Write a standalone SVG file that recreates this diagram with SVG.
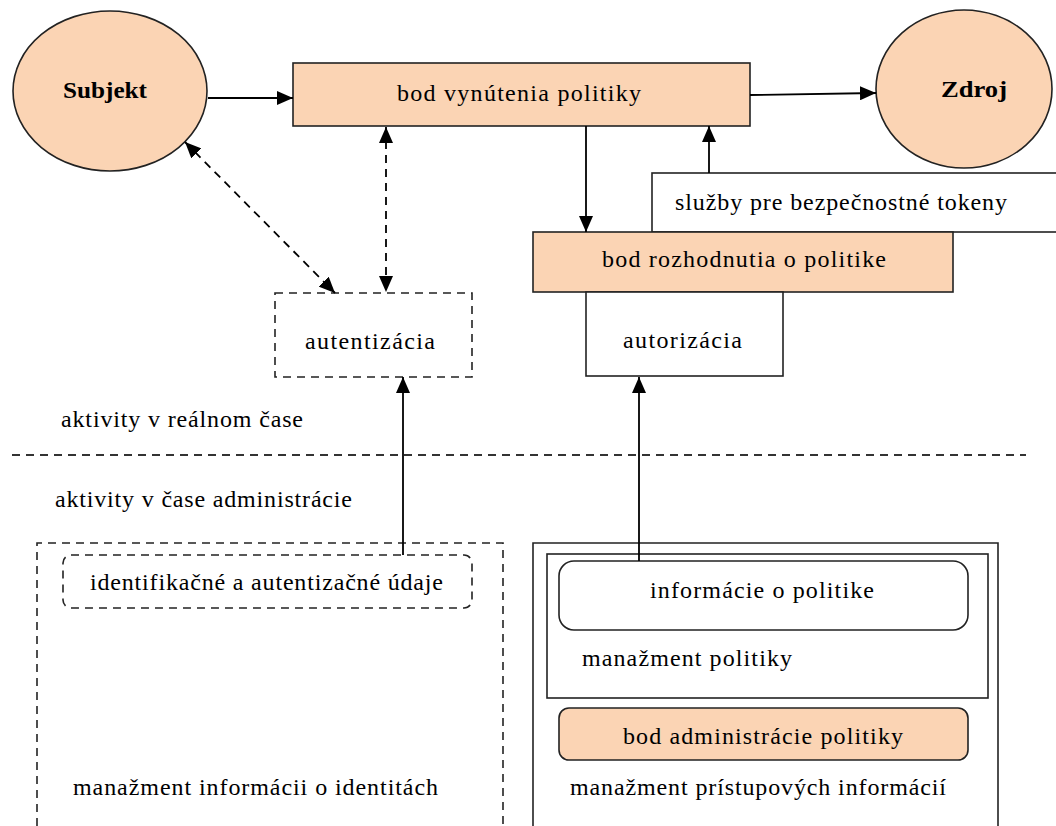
<svg xmlns="http://www.w3.org/2000/svg" width="1056" height="826" viewBox="0 0 1056 826">
<defs>
<marker id="ah" markerUnits="userSpaceOnUse" markerWidth="16" markerHeight="14" refX="16" refY="7" orient="auto-start-reverse">
<path d="M0,0 L16,7 L0,14 z" fill="#000"/>
</marker>
<style>
.t{font-family:"Liberation Serif","Times New Roman",serif;font-size:24px;fill:#000}
.b{font-weight:bold}
.peach{fill:#FBD4B4;stroke:#222;stroke-width:1.6}
.box{fill:#fff;stroke:#222;stroke-width:1.6}
.dbox{fill:none;stroke:#222;stroke-width:1.6;stroke-dasharray:8,6}
.c{fill:none;stroke:#000;stroke-width:1.8}
.cd{fill:none;stroke:#000;stroke-width:1.8;stroke-dasharray:8,6}
</style>
</defs>
<rect width="1056" height="826" fill="#fff"/>

<g id="subjekt">
<ellipse class="peach" cx="110" cy="91" rx="97" ry="80"/>
<text class="t b" x="63" y="98" textLength="84" lengthAdjust="spacingAndGlyphs">Subjekt</text>
</g>
<g id="zdroj">
<ellipse class="peach" cx="964" cy="89" rx="88" ry="79"/>
<text class="t b" x="941" y="97" textLength="66" lengthAdjust="spacingAndGlyphs">Zdroj</text>
</g>
<g id="pep">
<rect class="peach" x="293" y="63" width="457" height="63"/>
<text class="t" x="397" y="101" textLength="244" lengthAdjust="spacing">bod vynútenia politiky</text>
</g>
<g id="sts">
<rect class="box" x="652" y="173" width="420" height="59"/>
<text class="t" x="675" y="210" textLength="332" lengthAdjust="spacing">služby pre bezpečnostné tokeny</text>
</g>
<g id="pdp">
<rect class="peach" x="533" y="232" width="420" height="60"/>
<text class="t" x="602" y="267" textLength="284" lengthAdjust="spacing">bod rozhodnutia o politike</text>
</g>
<g id="autorizacia">
<rect class="box" x="586" y="292" width="197" height="84"/>
<text class="t" x="623" y="348" textLength="119" lengthAdjust="spacing">autorizácia</text>
</g>
<g id="autentizacia">
<rect class="dbox" x="275" y="293" width="197" height="84"/>
<text class="t" x="305" y="349" textLength="130" lengthAdjust="spacing">autentizácia</text>
</g>
<g id="realtime">
<text class="t" x="61" y="427" textLength="242" lengthAdjust="spacing">aktivity v reálnom čase</text>
<line x1="12" y1="455" x2="1026" y2="455" stroke="#333" stroke-width="1.8" stroke-dasharray="8,6"/>
<text class="t" x="55" y="507" textLength="297" lengthAdjust="spacing">aktivity v čase administrácie</text>
</g>
<g id="identity-mgmt">
<path class="dbox" d="M37,840 L37,543 L503,543 L503,840"/>
<text class="t" x="73" y="795" textLength="365" lengthAdjust="spacing">manažment informácii o identitách</text>
</g>
<g id="id-data">
<rect class="dbox" x="63" y="555" width="409" height="53" rx="8" ry="8"/>
<text class="t" x="90" y="590" textLength="353" lengthAdjust="spacing">identifikačné a autentizačné údaje</text>
</g>
<g id="access-mgmt">
<path class="box" d="M533,840 L533,543 L998,543 L998,840"/>
<text class="t" x="570" y="795" textLength="376" lengthAdjust="spacing">manažment prístupových informácií</text>
</g>
<g id="policy-mgmt">
<rect class="box" x="547" y="554" width="441" height="144"/>
<text class="t" x="582" y="666" textLength="210" lengthAdjust="spacing">manažment politiky</text>
</g>
<g id="policy-info">
<rect class="box" x="559" y="561" width="409" height="69" rx="15" ry="15"/>
<text class="t" x="650" y="598" textLength="224" lengthAdjust="spacing">informácie o politike</text>
</g>
<g id="pap">
<rect class="peach" x="559" y="708" width="409" height="52" rx="10" ry="10"/>
<text class="t" x="623" y="744" textLength="280" lengthAdjust="spacing">bod administrácie politiky</text>
</g>

<g id="connectors">
<line class="c" x1="208" y1="98" x2="293" y2="98" marker-end="url(#ah)"/>
<line class="c" x1="750" y1="95" x2="876" y2="93" marker-end="url(#ah)"/>
<line class="c" x1="586" y1="126" x2="586" y2="232" marker-end="url(#ah)"/>
<line class="c" x1="709" y1="173" x2="709" y2="126" marker-end="url(#ah)"/>
<line class="cd" x1="185" y1="142" x2="335" y2="293" marker-start="url(#ah)" marker-end="url(#ah)"/>
<line class="cd" x1="386" y1="127" x2="386" y2="292" marker-start="url(#ah)" marker-end="url(#ah)"/>
<line class="c" x1="403" y1="555" x2="403" y2="377" marker-end="url(#ah)"/>
<line class="c" x1="639" y1="561" x2="639" y2="377" marker-end="url(#ah)"/>
</g>
</svg>
